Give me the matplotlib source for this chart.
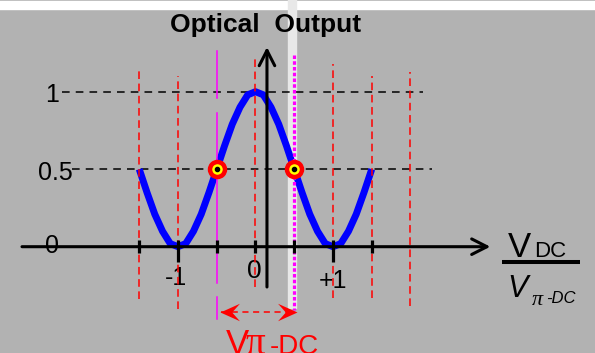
import numpy as np
import matplotlib.pyplot as plt
from matplotlib.patches import Rectangle
from matplotlib.path import Path

plt.rcParams['font.family'] = ['Liberation Sans', 'DejaVu Sans']

# normalised DC bias V_DC / V_pi-DC and optical output
v_dc = [-1.5, -1.4, -1.3, -1.2, -1.1, -1.0, -0.9, -0.8, -0.7, -0.6, -0.5,
        -0.4, -0.3, -0.2, -0.1, 0.0, 0.1, 0.2, 0.3, 0.4, 0.5,
        0.6, 0.7, 0.8, 0.9, 1.0, 1.1, 1.2, 1.3, 1.4, 1.5]
optical = [0.50, 0.35, 0.21, 0.10, 0.02, 0.00, 0.02, 0.10, 0.21, 0.35, 0.50,
           0.65, 0.79, 0.90, 0.98, 1.00, 0.98, 0.90, 0.79, 0.65, 0.50,
           0.35, 0.21, 0.10, 0.02, 0.00, 0.02, 0.10, 0.21, 0.35, 0.50]

# quadrature points
quad_v = [-0.5, 0.5]
quad_i = [0.5, 0.5]

# x ticks and labels
tick_v = [-1.5, -1.0, -0.5, 0.0, 0.5, 1.0, 1.5]
tick_lab_v = [-1.0, 0.0, 1.0]
tick_lab = ['-1', '0', '+1']

# y levels and labels
level_i = [0.0, 0.5, 1.0]
level_lab = ['0', '0.5', '1']

# red dashed guides
guide_v = [-1.5, -1.0, 0.0, 1.0, 1.5, 2.0]
guide_top = [1.15, 1.10, 1.24, 1.18, 1.10, 1.13]
guide_bot = [-0.34, -0.40, -0.26, -0.33, -0.33, -0.38]

bg = '#b2b2b2'
fig = plt.figure(figsize=(5.95, 3.53), dpi=100, facecolor=bg)
ax = fig.add_axes([0, 0, 1, 1])
ax.set_xlim(-255.5 / 77.5, (595 - 255.5) / 77.5)
ax.set_ylim((246.7 - 353) / 155, 246.7 / 155)
ax.axis('off')

# white bands of the slide
ax.add_patch(Rectangle((-4, 1.534), 9, 0.052, color='white', zorder=0))
ax.add_patch(Rectangle((0.419, -0.395), 0.104, 2.2, color='#e8e8e8', zorder=0))

# horizontal dashed levels
ax.plot([-2.50, 2.16], [1.0, 1.0], color='k', lw=1.1, ls=(0, (5, 4)), zorder=2)
ax.plot([-2.37, 2.28], [0.5, 0.5], color='k', lw=1.1, ls=(0, (5, 4)), zorder=2)

# curve
ax.plot(v_dc, optical, color='#0000ff', lw=5.0, solid_capstyle='butt',
        solid_joinstyle='round', zorder=3)

# red dashed vertical guides
for v, t, b in zip(guide_v, guide_top, guide_bot):
    ax.plot([v, v], [b, t], color='#ff0000', lw=1.1, ls=(0, (5, 3)), zorder=4)

# magenta lines at the quadrature points
for y0, y1 in [(1.263, 0.959), (0.863, -0.234), (-0.327, -0.466)]:
    ax.plot([quad_v[0], quad_v[0]], [y0, y1], color='#ff00ff', lw=1.1, zorder=4)
ax.plot([quad_v[1], quad_v[1]], [1.237, -0.408], color='#ff00ff', lw=2.3,
        ls=(0, (1.1, 0.7)), zorder=4)

# axes with open arrow heads
arrow = dict(arrowstyle='->,head_length=0.55,head_width=0.28', lw=2.2,
             color='k', shrinkA=0, shrinkB=0, mutation_scale=20)
ax.annotate('', xy=(3.03, 0), xytext=(-3.013, 0), arrowprops=arrow, zorder=5)
ax.annotate('', xy=(0.148, 1.288), xytext=(0.148, -0.26), arrowprops=arrow, zorder=5)

# ticks
for v in tick_v:
    lo = -0.099 if abs(v) == 1.0 else -0.041
    ax.plot([v, v], [0.043, lo], color='k', lw=2.3, solid_capstyle='butt', zorder=5)

# quadrature markers
ax.plot(quad_v, quad_i, 'o', ms=10.8, mfc='#ffff00', mec='#ff0000', mew=3.2, zorder=6)
ax.plot(quad_v, quad_i, 'o', ms=3.0, color='k', zorder=7)

# tick labels
ax.text(tick_lab_v[0] - 0.02, -0.244, tick_lab[0], fontsize=18, ha='center', va='baseline')
ax.text(tick_lab_v[1] - 0.02, -0.200, tick_lab[1], fontsize=19, ha='center', va='baseline')
ax.text(tick_lab_v[2], -0.266, tick_lab[2], fontsize=18, ha='center', va='baseline')

level_x = [-2.62, -2.58, -2.62]
level_y = [-0.041, 0.430, 0.934]
for x, y, s in zip(level_x, level_y, level_lab):
    ax.text(x, y, s, fontsize=18, ha='center', va='baseline', zorder=1)

# title
ax.text(0.135, 1.385, 'Optical  Output', fontsize=19, fontweight='bold',
        ha='center', va='baseline')

# x-axis quantity V_DC / V_pi-DC
ax.text(3.26, -0.066, 'V', fontsize=25, ha='left', va='baseline')
ax.text(3.59, -0.066, 'DC', fontsize=16, ha='left', va='baseline')
ax.plot([3.181, 4.187], [-0.099, -0.099], color='k', lw=2.9, solid_capstyle='butt')
ax.text(3.25, -0.325, 'V', fontsize=22, style='italic', ha='left', va='baseline')
ax.text(3.56, -0.375, 'π', fontsize=16, family='Liberation Serif', style='italic',
        ha='left', va='baseline')
ax.text(3.75, -0.363, '-DC', fontsize=12, style='italic', ha='left', va='baseline')

# V_pi-DC span arrow
y_arr = -0.421
ax.plot([-0.45, 0.51], [y_arr, y_arr], color='#ff0000', lw=1.1, ls=(0, (4, 3)), zorder=5)
head_r = Path([(0, 0), (-1, 0.45), (-0.6, 0), (-1, -0.45), (0, 0)],
              [Path.MOVETO, Path.LINETO, Path.LINETO, Path.LINETO, Path.CLOSEPOLY])
head_l = Path([(0, 0), (1, 0.45), (0.6, 0), (1, -0.45), (0, 0)],
              [Path.MOVETO, Path.LINETO, Path.LINETO, Path.LINETO, Path.CLOSEPOLY])
ax.plot([0.535], [y_arr], marker=head_r, ms=28, color='#ff0000', mew=0, zorder=6)
ax.plot([-0.46], [y_arr], marker=head_l, ms=28, color='#ff0000', mew=0, zorder=6)

ax.text(-0.38, -0.692, 'V', fontsize=25, color='#ff0000', ha='left', va='baseline')
ax.text(-0.13, -0.692, 'π', fontsize=28, color='#ff0000', family='Liberation Serif',
        ha='left', va='baseline')
ax.text(0.18, -0.692, '-DC', fontsize=20, color='#ff0000', ha='left', va='baseline')

fig.savefig('out.png', dpi=100, facecolor=bg)
